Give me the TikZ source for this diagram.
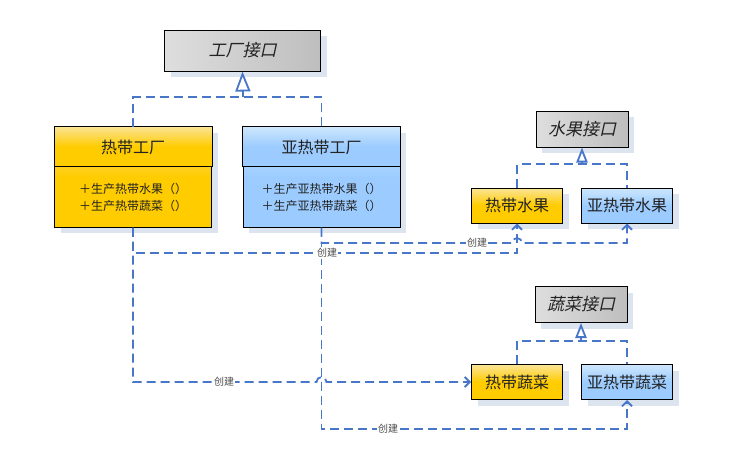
\documentclass[tikz,border=0pt]{standalone}
\usepackage{fontspec}
\usetikzlibrary{arrows.meta,shadows}
\newfontfamily\cjk{Noto Sans CJK SC}
\newfontfamily\cjkit[FakeSlant=0.22]{Noto Sans CJK SC}

\definecolor{linkblue}{RGB}{72,118,200}
\definecolor{greyL}{RGB}{222,222,222}
\definecolor{greyD}{RGB}{190,190,190}
\definecolor{yelL}{RGB}{250,228,150}
\definecolor{yelD}{RGB}{255,204,0}
\definecolor{bluL}{RGB}{206,231,253}
\definecolor{bluD}{RGB}{156,204,255}
\definecolor{shadowc}{RGB}{220,228,240}
\definecolor{txt}{RGB}{34,34,34}

\tikzset{
  boxbase/.style={draw=black, line width=1pt, rectangle, inner sep=0pt,
    text=txt, drop shadow={shadow xshift=6pt, shadow yshift=-6pt, fill=shadowc, opacity=1}},
  greyfill/.style={left color=greyL, right color=greyD},
  yelfill/.style={top color=yelL, bottom color=yelD, middle color=yelD},
  blufill/.style={top color=bluL, bottom color=bluD, middle color=bluD},
  ifbox/.style={boxbase, greyfill, font=\cjkit\fontsize{17}{19}\selectfont},
  smallbox/.style={boxbase, minimum width=91pt, minimum height=35pt,
    font=\cjk\fontsize{16}{18}\selectfont},
  classbox/.style={boxbase, minimum width=157pt, minimum height=100pt},
  headbox/.style={draw=black, line width=1pt},
  dline/.style={draw=linkblue, line width=1.8pt, dash pattern=on 9pt off 5pt},
  creates/.style={dline, -{Straight Barb[length=5pt,width=10pt]}},
  realizes/.style={draw=linkblue, line width=1.8pt,
    -{Triangle[open, length=#1, width=0.75*#1, fill=white]}},
  lbl/.style={fill=white, inner sep=1pt, text=black!70, font=\cjk\fontsize{10}{12}\selectfont},
  headtxt/.style={text=txt, font=\cjk\fontsize{16}{18}\selectfont},
  methtxt/.style={text=txt, align=center, font=\cjk\fontsize{12}{17}\selectfont},
}

\begin{document}
\begin{tikzpicture}[x=1pt,y=1pt]
\useasboundingbox (0,0) rectangle (730,-471);
\fill[white] (0,0) rectangle (730,-471);

% interfaces
\node[ifbox, minimum width=156pt, minimum height=41pt] (fi) at (242.5,-50.5) {工厂接口};
\node[ifbox, minimum width=92pt, minimum height=36pt] (fri) at (582,-129) {水果接口};
\node[ifbox, minimum width=92pt, minimum height=36pt] (vi) at (581,-304.5) {蔬菜接口};

% concrete factories, each with a title compartment and a method compartment
\node[classbox, yelfill] (hf) at (133,-177) {};
\path[headbox, yelfill] (hf.north west) rectangle ([yshift=-40pt]hf.north east);
\node[headtxt] (hft) at (133,-147) {热带工厂};
\node[methtxt] (hfm) at (133,-197) {＋生产热带水果（）\\＋生产热带蔬菜（）};

\node[classbox, blufill] (sf) at (321.5,-177) {};
\path[headbox, blufill] (sf.north west) rectangle ([yshift=-40pt]sf.north east);
\node[headtxt] (sft) at (321.5,-147) {亚热带工厂};
\node[methtxt] (sfm) at (321.5,-197) {＋生产亚热带水果（）\\＋生产亚热带蔬菜（）};

% products
\node[smallbox, yelfill] (hfr) at (517,-205.5) {热带水果};
\node[smallbox, blufill] (sfr) at (627,-205.5) {亚热带水果};
\node[smallbox, yelfill] (hv) at (517,-382) {热带蔬菜};
\node[smallbox, blufill] (sv) at (627,-382) {亚热带蔬菜};

% realization of the interfaces
\coordinate (fj) at (243,-97);
\draw[dline] (hf.north) |- (fj) -| (sf.north);
\draw[realizes=20pt] (fj) -- (fi.south);

\coordinate (frj) at (582,-164);
\draw[dline] (hfr.north) |- (frj) -| (sfr.north);
\draw[realizes=15pt] (frj) -- (fri.south);

\coordinate (vj) at (581,-341);
\draw[dline] (hv.north) |- (vj) -| (sv.north);
\draw[realizes=15pt] (vj) -- (vi.south);

% creation links
\coordinate (c1) at (133,-253);
\draw[creates] (hf.south) -- (c1) -| (hfr.south);

\coordinate (h1) at (517,-243);
\draw[creates] (sf.south) |- ([xshift=-5pt]h1) arc[start angle=180, end angle=0, radius=5pt] -| (sfr.south);

\coordinate (h2) at (321.5,-382);
\draw[creates] (hf.south) |- ([xshift=-5pt]h2) arc[start angle=180, end angle=0, radius=5pt] -- (hv.west);

\coordinate (c4) at (321.5,-429);
\draw[creates] (sf.south) -- (c4) -| (sv.south);

% link labels
\node[lbl] (l1) at (327,-253) {创建};
\node[lbl] (l2) at (477,-243) {创建};
\node[lbl] (l3) at (224,-382) {创建};
\node[lbl] (l4) at (388,-429) {创建};
\end{tikzpicture}
\end{document}
